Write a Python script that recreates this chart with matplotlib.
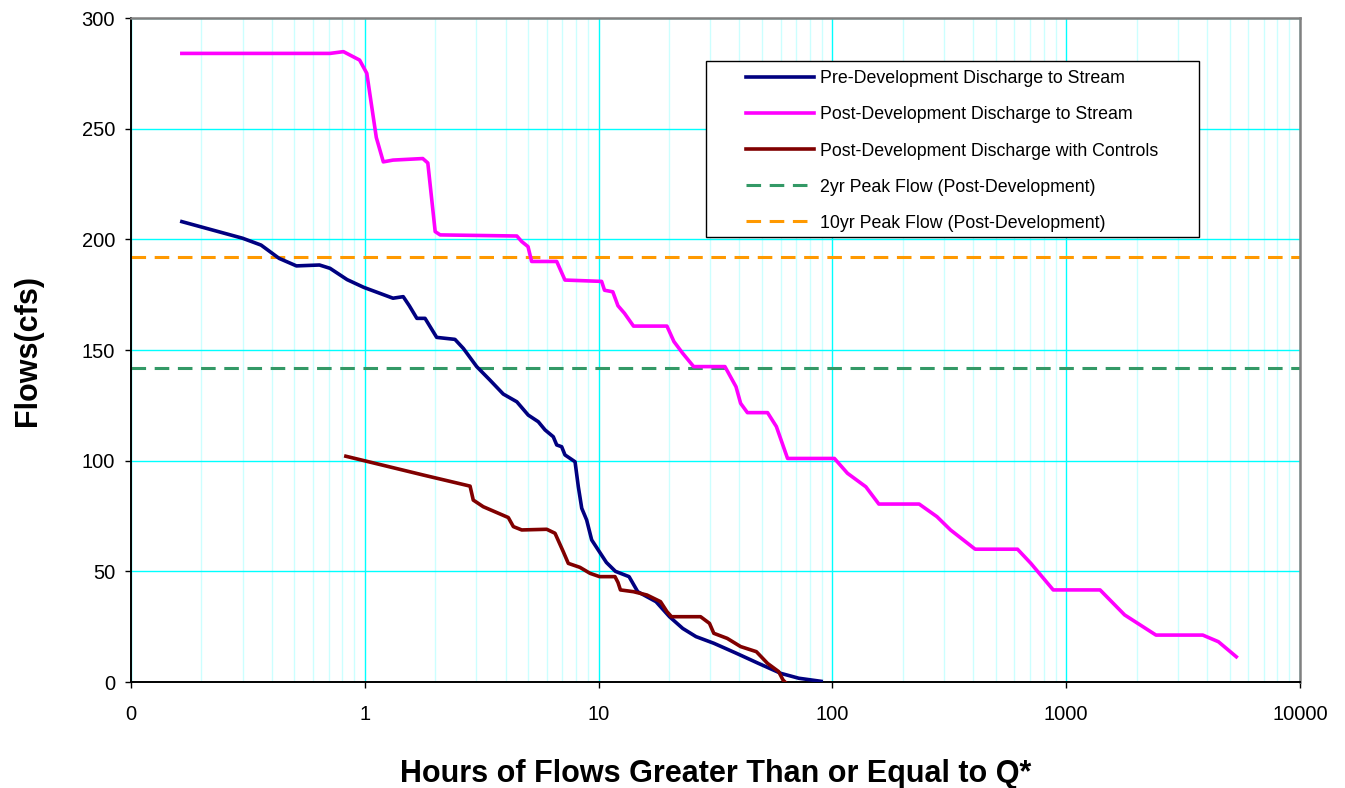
import matplotlib.pyplot as plt
from matplotlib.patches import Rectangle
from matplotlib.ticker import FixedLocator, LogLocator, NullFormatter

plt.rcParams['font.family'] = ['Liberation Sans', 'DejaVu Sans']
plt.rcParams['lines.scale_dashes'] = False

# Pre-development discharge (hours, cfs)
pre_hours = [0.165, 0.30, 0.36, 0.43, 0.51, 0.64, 0.71, 0.84, 0.99, 1.32, 1.46, 1.55,
             1.67, 1.81, 2.03, 2.43, 2.64, 3.01, 3.43, 3.91, 4.47, 5.0, 5.52, 5.90,
             6.40, 6.62, 6.95, 7.18, 7.93, 8.19, 8.47, 8.89, 9.34, 9.97, 10.8, 11.8,
             13.5, 14.7, 17.6, 20.1, 22.9, 26.1, 31.1, 38.8, 48.3, 60.2, 71.8, 89.5]
pre_flow = [208, 200.5, 197.4, 191.4, 188, 188.4, 186.9, 181.8, 178.3, 173.4, 174.1, 170,
            164.3, 164.3, 155.7, 154.8, 150.7, 142.5, 136.4, 130.1, 126.6, 120.6, 117.6, 113.9,
            110.8, 107.1, 106.3, 102.6, 99.5, 88.2, 78.5, 73.2, 64.2, 59.6, 54, 50,
            47.6, 40.8, 36.3, 29.5, 24.2, 20.5, 17.5, 13, 8.4, 3.9, 1.7, 0.3]

# Post-development discharge
post_hours = [0.165, 0.71, 0.81, 0.95, 1.02, 1.12, 1.20, 1.32, 1.77, 1.86, 2.0, 2.10,
              4.47, 4.69, 4.99, 5.17, 6.62, 7.18, 10.3, 10.6, 11.5, 12.1, 12.9, 14.1,
              19.6, 21.0, 22.9, 25.5, 34.7, 38.7, 40.5, 43.3, 52.8, 57.6, 64.3, 102,
              116, 139, 158, 235, 280, 320, 408, 619, 706, 880, 1396, 1778, 2421, 3838,
              4477, 5340]
post_flow = [284, 284, 284.8, 281, 275, 246, 235, 235.8, 236.5, 234.5, 203.5, 202,
             201.5, 199, 196.7, 190, 190, 181.6, 181, 177, 176.3, 170, 166.6, 160.8,
             160.8, 153.8, 148.5, 142.5, 142.5, 133.4, 125.9, 121.7, 121.7, 115.4, 101, 101,
             94.3, 88.2, 80.4, 80.4, 74.7, 68.7, 60, 60, 53.6, 41.6, 41.6, 30.3, 21.2, 21.2,
             18.2, 11.4]

# Post-development discharge with controls
ctrl_hours = [0.83, 1.78, 2.82, 2.91, 3.21, 4.11, 4.32, 4.69, 6.0, 6.51, 7.06, 7.42,
              8.32, 9.19, 10.1, 11.75, 12.1, 12.4, 14.1, 16.1, 18.4, 19.6, 20.5, 27.3,
              29.8, 31.1, 35.5, 40.5, 47.3, 52.8, 58.9, 61.5, 62.7]
ctrl_flow = [102, 93.5, 88.5, 82.2, 79.2, 74.3, 70.2, 68.7, 69, 67.2, 58.9, 53.6,
             51.8, 49.1, 47.6, 47.6, 45, 41.6, 40.8, 39.3, 36.3, 31.8, 29.5, 29.5,
             26.5, 22, 19.7, 16, 13.7, 8.4, 4.7, 0.9, 0]

peak_2yr = 142
peak_10yr = 192

x_ticks = [0.1, 1, 10, 100, 1000, 10000]
x_labels = ['0', '1', '10', '100', '1000', '10000']

fig = plt.figure(figsize=(13.45, 7.88), dpi=100)
ax = fig.add_axes([131 / 1345, 1 - 682 / 788, 1169 / 1345, 664 / 788])

ax.plot(pre_hours, pre_flow, color='#000080', lw=2.6, label='Pre-Development Discharge to Stream',
        zorder=3, solid_joinstyle='round')
ax.plot(post_hours, post_flow, color='#FF00FF', lw=2.6, label='Post-Development Discharge to Stream',
        zorder=3, solid_joinstyle='round')
ax.plot(ctrl_hours, ctrl_flow, color='#800000', lw=2.6, label='Post-Development Discharge with Controls',
        zorder=3, solid_joinstyle='round')
ax.axhline(peak_2yr, color='#339966', lw=2.2, dashes=(10.5, 6.2), label='2yr Peak Flow (Post-Development)', zorder=2.5)
ax.axhline(peak_10yr, color='#FF9900', lw=2.2, dashes=(10.5, 6.2), label='10yr Peak Flow (Post-Development)', zorder=2.5)

ax.set_xscale('log')
ax.set_xlim(0.1, 10000)
ax.set_ylim(0, 300)
ax.xaxis.set_major_locator(FixedLocator(x_ticks))
ax.set_xticklabels(x_labels)
ax.xaxis.set_minor_locator(LogLocator(base=10, subs=range(2, 10)))
ax.xaxis.set_minor_formatter(NullFormatter())
ax.set_yticks(range(0, 301, 50))

ax.grid(True, which='major', color='#00FFFF', lw=1.0, zorder=0)
ax.grid(True, which='minor', axis='x', color='#CCFFFF', lw=1.0, zorder=0)
ax.set_axisbelow(True)

ax.tick_params(axis='both', which='major', direction='out', length=4.5, width=1,
               labelsize=14.5, color='black')
ax.tick_params(axis='x', which='major', pad=12)
ax.tick_params(axis='y', which='major', pad=7)
ax.tick_params(axis='x', which='minor', length=0)

for side in ['left', 'bottom']:
    ax.spines[side].set_color('black')
    ax.spines[side].set_linewidth(1.4)
for side in ['top', 'right']:
    ax.spines[side].set_color('#808080')
    ax.spines[side].set_linewidth(1.8)

ax.set_xlabel('Hours of Flows Greater Than or Equal to Q*', fontsize=22, fontweight='bold', labelpad=25)
ax.set_ylabel('Flows(cfs)', fontsize=22, fontweight='bold', labelpad=28)

# legend box
box = Rectangle((0.4919, 0.6707), 0.4217, 0.265, transform=ax.transAxes,
                facecolor='white', edgecolor='black', lw=1.0, zorder=4.5)
ax.add_patch(box)
leg = ax.legend(loc='upper left', bbox_to_anchor=(0.526, 0.921), frameon=False,
                fontsize=12.8, handlelength=3.85, handletextpad=0.3, labelspacing=1.07,
                borderpad=0, borderaxespad=0)
leg.set_zorder(5)

fig.savefig('out.png', dpi=100)
